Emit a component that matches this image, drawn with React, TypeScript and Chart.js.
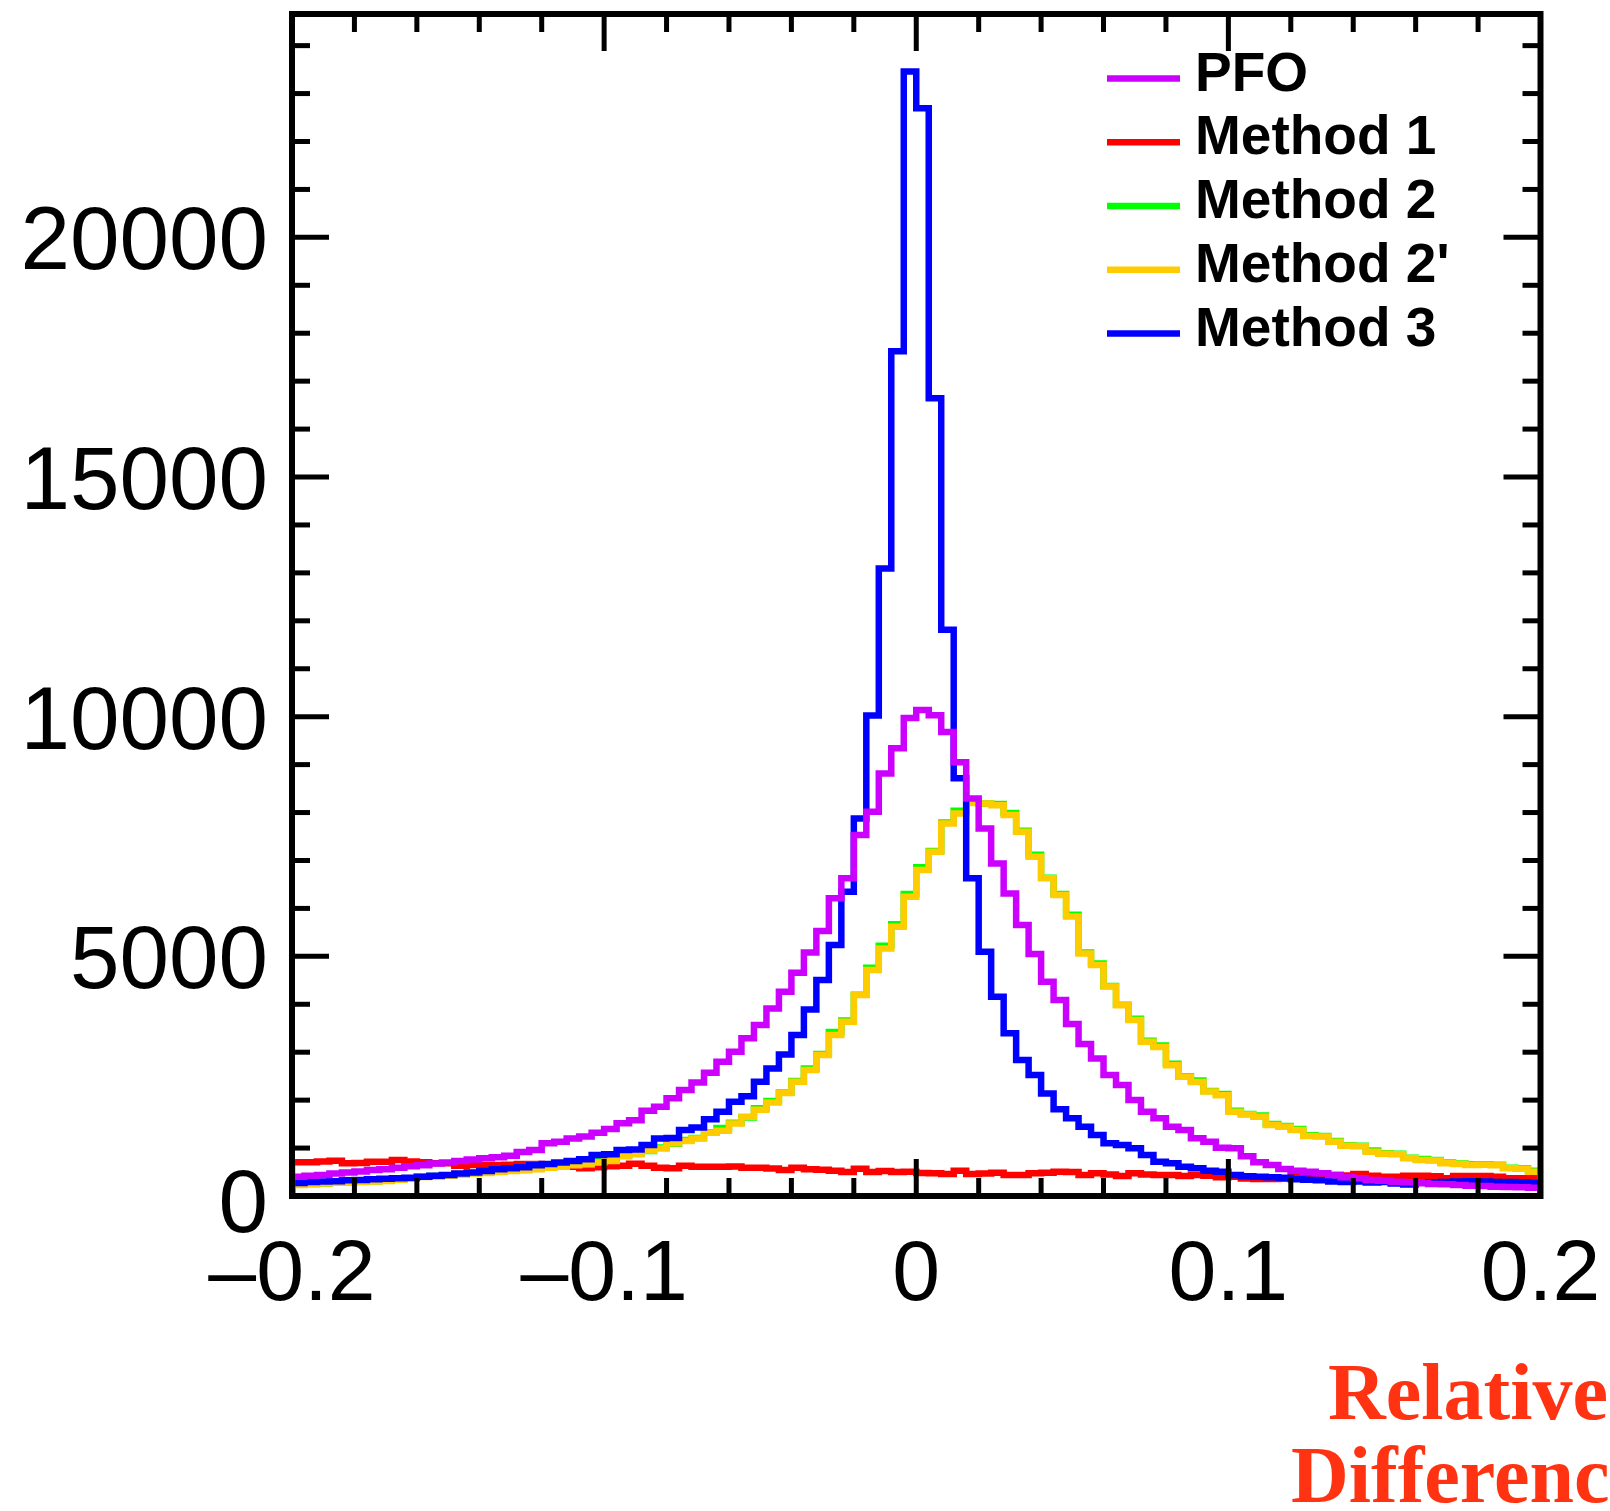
import React, { useEffect, useRef } from 'react';
import { Chart, registerables } from 'chart.js';

Chart.register(...registerables);

// ---- histogram binning ----
const BIN_LOW = -0.2;
const BIN_HIGH = 0.2;
const N_BINS = 100;

// ---- series ----
const SERIES_LABELS = ['PFO', 'Method 1', 'Method 2', "Method 2'", 'Method 3'];
const SERIES_COLORS = ['#cc00ff', '#ff0000', '#00ff00', '#ffcc00', '#0000ff'];

const pfo = [
  400, 420, 440, 470, 490, 510, 540, 560, 590, 620,
  640, 680, 700, 730, 760, 790, 810, 840, 920, 960,
  1100, 1130, 1200, 1240, 1320, 1400, 1520, 1580, 1780, 1860,
  2040, 2210, 2370, 2570, 2800, 3010, 3290, 3570, 3910, 4260,
  4660, 5080, 5530, 6210, 6630, 7530, 8015, 8815, 9340, 9975,
  10140, 10030, 9680, 9050, 8294, 7668, 6938, 6313, 5652, 5047,
  4469, 4088, 3587, 3170, 2871, 2523, 2315, 2002, 1758, 1620,
  1445, 1376, 1203, 1132, 1007, 994, 830, 702, 646, 563,
  528, 507, 473, 438, 389, 368, 334, 320, 299, 285,
  264, 250, 243, 229, 215, 208, 194, 190, 180, 174,
];

const method1 = [
  702, 702, 720, 737, 681, 690, 716, 716, 751, 720,
  702, 681, 681, 633, 646, 646, 646, 650, 667, 667,
  640, 620, 612, 577, 600, 620, 630, 675, 630, 590,
  577, 630, 612, 612, 610, 615, 590, 590, 575, 545,
  590, 556, 550, 525, 500, 570, 500, 520, 500, 507,
  480, 473, 460, 525, 460, 470, 487, 438, 440, 473,
  487, 507, 500, 438, 473, 450, 417, 473, 450, 438,
  438, 417, 438, 420, 389, 403, 365, 355, 355, 360,
  459, 440, 438, 438, 430, 459, 420, 403, 403, 424,
  424, 410, 368, 417, 417, 417, 403, 368, 368, 368,
];

const method2 = [
  235, 250, 262, 280, 285, 300, 310, 320, 345, 365,
  400, 415, 430, 455, 480, 490, 505, 530, 540, 570,
  600, 615, 650, 670, 730, 740, 840, 880, 940, 1010,
  1090, 1170, 1210, 1330, 1420, 1530, 1640, 1830, 1980, 2160,
  2400, 2660, 2960, 3420, 3660, 4200, 4760, 5220, 5670, 6300,
  6860, 7200, 7790, 8040, 8230, 8190, 8180, 7990, 7620, 7120,
  6640, 6300, 5870, 5080, 4850, 4380, 3990, 3700, 3240, 3140,
  2760, 2500, 2410, 2190, 2130, 1780, 1710, 1680, 1500, 1460,
  1400, 1270, 1250, 1150, 1060, 1050, 950, 890, 880, 800,
  770, 750, 700, 680, 660, 660, 650, 590, 580, 525,
];

const method2p = [
  230, 245, 260, 275, 280, 290, 300, 315, 340, 370,
  395, 405, 420, 460, 470, 480, 500, 520, 545, 560,
  590, 610, 640, 660, 700, 730, 830, 870, 950, 990,
  1100, 1150, 1200, 1320, 1360, 1515, 1654, 1800, 1950, 2150,
  2384, 2628, 2940, 3358, 3636, 4192, 4713, 5165, 5617, 6243,
  6799, 7181, 7772, 7981, 8200, 8190, 8150, 7950, 7600, 7080,
  6630, 6280, 5830, 5060, 4820, 4370, 3980, 3670, 3220, 3110,
  2730, 2490, 2380, 2180, 2100, 1760, 1700, 1654, 1481, 1446,
  1376, 1251, 1240, 1133, 1050, 1040, 924, 880, 870, 785,
  751, 740, 681, 670, 646, 650, 640, 577, 570, 507,
];

const method3 = [
  270, 290, 300, 310, 330, 335, 350, 360, 370, 380,
  400, 420, 440, 470, 490, 520, 560, 580, 600, 640,
  670, 700, 730, 765, 855, 870, 959, 970, 1064, 1202,
  1210, 1376, 1430, 1600, 1759, 1967, 2080, 2384, 2662, 2950,
  3358, 3890, 4505, 5235, 6347, 7876, 10025, 13093, 17622, 23460,
  22694, 16642, 11814, 8715, 6630, 5095, 4157, 3393, 2836, 2523,
  2141, 1808, 1620, 1445, 1272, 1099, 1064, 994, 855, 716,
  681, 612, 577, 528, 507, 440, 410, 400, 390, 380,
  350, 340, 330, 300, 290, 300, 280, 290, 260, 240,
  280, 285, 290, 300, 310, 300, 290, 290, 280, 270,
];

const SERIES_VALUES = [pfo, method1, method2, method2p, method3];
// drawing order (0 = on top)
const SERIES_ORDER = [0, 4, 3, 2, 1];

// ---- axes ----
const Y_MAX = 24660;
const X_TICKS = [-0.2, -0.1, 0, 0.1, 0.2];
const X_TICK_LABELS = ['\u20130.2', '\u20130.1', '0', '0.1', '0.2'];
const X_MINOR_STEP = 0.02;
const Y_TICKS = [0, 5000, 10000, 15000, 20000];
const Y_TICK_LABELS = ['0', '5000', '10000', '15000', '20000'];
const Y_MINOR_STEP = 1000;
const X_TITLE_LINES = ['Relative', 'Difference'];

function histogramPoints(values: number[]) {
  const w = (BIN_HIGH - BIN_LOW) / N_BINS;
  const pts: { x: number; y: number }[] = [{ x: BIN_LOW, y: 0 }];
  values.forEach((v, i) => pts.push({ x: BIN_LOW + i * w, y: v }));
  pts.push({ x: BIN_HIGH, y: values[values.length - 1] });
  pts.push({ x: BIN_HIGH, y: 0 });
  return pts;
}

const SANS = '"Liberation Sans", Arial, Helvetica, sans-serif';
const SERIF = '"Liberation Serif", "Times New Roman", serif';

const rootStylePlugin = {
  id: 'rootStyle',
  afterDatasetsDraw(chart: any) {
    const { ctx, chartArea: a } = chart;
    const xs = chart.scales.x;
    const ys = chart.scales.y;
    ctx.save();

    const seg = (x1: number, y1: number, x2: number, y2: number) => {
      ctx.beginPath();
      ctx.moveTo(x1, y1);
      ctx.lineTo(x2, y2);
      ctx.stroke();
    };

    const MAJOR = 37;
    const MINOR = 18;
    ctx.strokeStyle = '#000';
    ctx.lineWidth = 5;
    ctx.lineCap = 'butt';

    // x ticks (bottom and top, inward)
    const nx = Math.round((BIN_HIGH - BIN_LOW) / X_MINOR_STEP);
    for (let i = 0; i <= nx; i++) {
      const v = BIN_LOW + i * X_MINOR_STEP;
      const isMajor = X_TICKS.some((t) => Math.abs(t - v) < 1e-9);
      const len = isMajor ? MAJOR : MINOR;
      const px = xs.getPixelForValue(v);
      seg(px, a.bottom, px, a.bottom - len);
      seg(px, a.top, px, a.top + len);
    }
    // y ticks (left and right, inward)
    for (let v = 0; v <= Y_MAX; v += Y_MINOR_STEP) {
      const isMajor = Y_TICKS.includes(v);
      const len = isMajor ? MAJOR : MINOR;
      const py = ys.getPixelForValue(v);
      seg(a.left, py, a.left + len, py);
      seg(a.right, py, a.right - len, py);
    }

    // frame
    ctx.lineWidth = 6;
    ctx.strokeRect(a.left, a.top, a.right - a.left, a.bottom - a.top);

    // tick labels
    ctx.fillStyle = '#000';
    ctx.textBaseline = 'alphabetic';
    ctx.font = `89px ${SANS}`;
    ctx.textAlign = 'right';
    Y_TICKS.forEach((v, i) => {
      const py = ys.getPixelForValue(v);
      ctx.fillText(Y_TICK_LABELS[i], 268, py + 32 + (v === 0 ? 4 : 0));
    });
    ctx.font = `86px ${SANS}`;
    ctx.textAlign = 'center';
    X_TICKS.forEach((v, i) => {
      const px = xs.getPixelForValue(v);
      ctx.fillText(X_TICK_LABELS[i], px, 1300);
    });

    // legend
    ctx.font = `bold 55px ${SANS}`;
    ctx.textAlign = 'left';
    SERIES_LABELS.forEach((lab, i) => {
      const ly = 78.5 + i * 63.75;
      ctx.strokeStyle = SERIES_COLORS[i];
      ctx.lineWidth = 6.5;
      seg(1107, ly, 1180, ly);
      ctx.fillStyle = '#000';
      ctx.fillText(lab, 1195, ly + 12);
    });

    // x-axis title
    ctx.font = `bold 80px ${SERIF}`;
    ctx.fillStyle = '#ff3311';
    ctx.textAlign = 'center';
    ctx.fillText(X_TITLE_LINES[0], 1468, 1419);
    ctx.fillText(X_TITLE_LINES[1], 1468, 1502);

    ctx.restore();
  },
};

export default function App() {
  const canvasRef = useRef<HTMLCanvasElement | null>(null);

  useEffect(() => {
    const canvas = canvasRef.current;
    if (!canvas) return;
    const chart = new Chart(canvas, {
      type: 'line',
      data: {
        datasets: SERIES_LABELS.map((label, i) => ({
          label,
          data: histogramPoints(SERIES_VALUES[i]),
          borderColor: SERIES_COLORS[i],
          backgroundColor: SERIES_COLORS[i],
          borderWidth: 6.5,
          stepped: 'before' as const,
          pointRadius: 0,
          fill: false,
          tension: 0,
          order: SERIES_ORDER[i],
          borderJoinStyle: 'miter' as const,
          borderCapStyle: 'butt' as const,
        })),
      },
      options: {
        animation: false,
        responsive: false,
        devicePixelRatio: 1,
        layout: { padding: { left: 292, top: 14, right: 69.5, bottom: 315 } },
        plugins: {
          legend: { display: false },
          tooltip: { enabled: false },
        },
        scales: {
          x: { type: 'linear', min: BIN_LOW, max: BIN_HIGH, display: false },
          y: { type: 'linear', min: 0, max: Y_MAX, display: false },
        },
      },
      plugins: [rootStylePlugin],
    });
    return () => chart.destroy();
  }, []);

  return (
    <div style={{ position: 'absolute', left: 0, top: 0, width: 1610, height: 1511, background: '#fff' }}>
      <canvas ref={canvasRef} width={1610} height={1511} style={{ display: 'block' }} />
    </div>
  );
}
